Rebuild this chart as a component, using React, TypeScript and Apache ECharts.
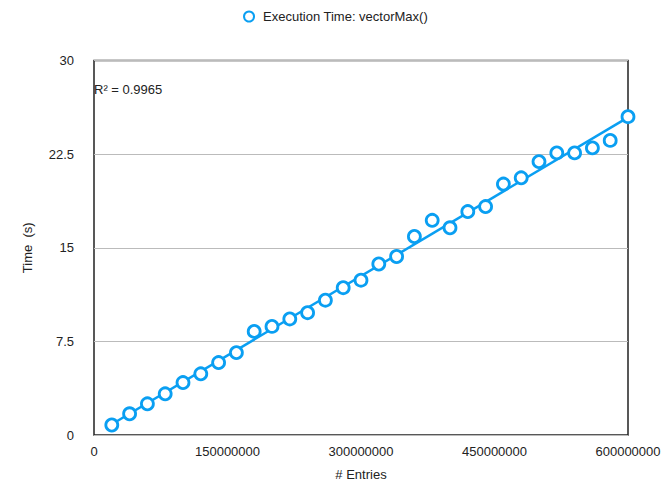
import React, { useEffect, useRef } from "react";
import * as echarts from "echarts";

const entries = [
  20000000, 40000000, 60000000, 80000000, 100000000, 120000000, 140000000, 160000000, 180000000, 200000000,
  220000000, 240000000, 260000000, 280000000, 300000000, 320000000, 340000000, 360000000, 380000000, 400000000,
  420000000, 440000000, 460000000, 480000000, 500000000, 520000000, 540000000, 560000000, 580000000, 600000000,
];
const times = [
  0.8, 1.7, 2.5, 3.3, 4.2, 4.9, 5.8, 6.6, 8.3, 8.7,
  9.3, 9.8, 10.8, 11.8, 12.4, 13.7, 14.3, 15.9, 17.2, 16.6,
  17.9, 18.3, 20.1, 20.6, 21.9, 22.6, 22.6, 23.0, 23.6, 25.5,
];
const seriesName = "Execution Time: vectorMax()";
const r2Label = "R² = 0.9965";

const COLOR = "#0a9ff2";
const FONT = "'Liberation Sans', Arial, Helvetica, sans-serif";

function regression(xs: number[], ys: number[]) {
  const n = xs.length;
  const mx = xs.reduce((a, b) => a + b, 0) / n;
  const my = ys.reduce((a, b) => a + b, 0) / n;
  let sxy = 0, sxx = 0;
  for (let i = 0; i < n; i++) {
    sxy += (xs[i] - mx) * (ys[i] - my);
    sxx += (xs[i] - mx) * (xs[i] - mx);
  }
  const slope = sxy / sxx;
  return { slope, intercept: my - slope * mx };
}

export default function App() {
  const ref = useRef<HTMLDivElement>(null);
  useEffect(() => {
    if (!ref.current) return;
    const chart = echarts.init(ref.current, undefined, { renderer: "svg" });
    const { slope, intercept } = regression(entries, times);
    const x0 = entries[0];
    const x1 = entries[entries.length - 1];
    chart.setOption({
      animation: false,
      textStyle: { fontFamily: FONT },
      legend: {
        top: 5,
        left: "center",
        data: [{ name: seriesName, icon: "circle" }],
        itemWidth: 10,
        itemHeight: 10,
        itemGap: 10,
        textStyle: { fontSize: 13, color: "#222", fontFamily: FONT, padding: [0, 0, 0, 4] },
      },
      grid: {
        left: 94,
        right: 43,
        top: 60.5,
        bottom: 51,
        show: true,
        borderColor: "#222",
        borderWidth: 1.5,
        backgroundColor: "transparent",
      },
      xAxis: {
        type: "value",
        min: 0,
        max: 600000000,
        interval: 150000000,
        name: "# Entries",
        nameLocation: "middle",
        nameGap: 33,
        nameTextStyle: { fontSize: 13, color: "#222", fontFamily: FONT },
        axisLine: { show: false },
        axisTick: { show: false },
        splitLine: { show: false },
        axisLabel: {
          fontSize: 13,
          color: "#222",
          margin: 10,
          fontFamily: FONT,
          formatter: (v: number) => String(v),
        },
      },
      yAxis: {
        type: "value",
        min: 0,
        max: 30,
        interval: 7.5,
        name: "Time  (s)",
        nameLocation: "middle",
        nameGap: 60,
        nameTextStyle: { fontSize: 13, color: "#222", fontFamily: FONT },
        axisLine: { show: false },
        axisTick: { show: false },
        splitLine: { show: true, lineStyle: { color: "#bbb", width: 1 } },
        axisLabel: { fontSize: 13, color: "#222", margin: 20, fontFamily: FONT },
      },
      graphic: [
        {
          type: "text",
          left: 94,
          top: 83,
          style: { text: r2Label, fontSize: 13, fill: "#222", fontFamily: FONT },
        },
      ],
      series: [
        {
          name: seriesName,
          type: "scatter",
          data: entries.map((x, i) => [x, times[i]]),
          symbol: "circle",
          symbolSize: 12,
          itemStyle: { color: "#fff", borderColor: COLOR, borderWidth: 2.8, opacity: 1 },
          z: 3,
        },
        {
          name: "trend",
          type: "line",
          data: [
            [x0, slope * x0 + intercept],
            [x1, slope * x1 + intercept],
          ],
          symbol: "none",
          lineStyle: { color: COLOR, width: 2.5 },
          z: 2,
          silent: true,
        },
      ],
    });
    return () => chart.dispose();
  }, []);
  return <div ref={ref} style={{ width: 671, height: 486, position: "absolute", left: 0, top: 0 }} />;
}
